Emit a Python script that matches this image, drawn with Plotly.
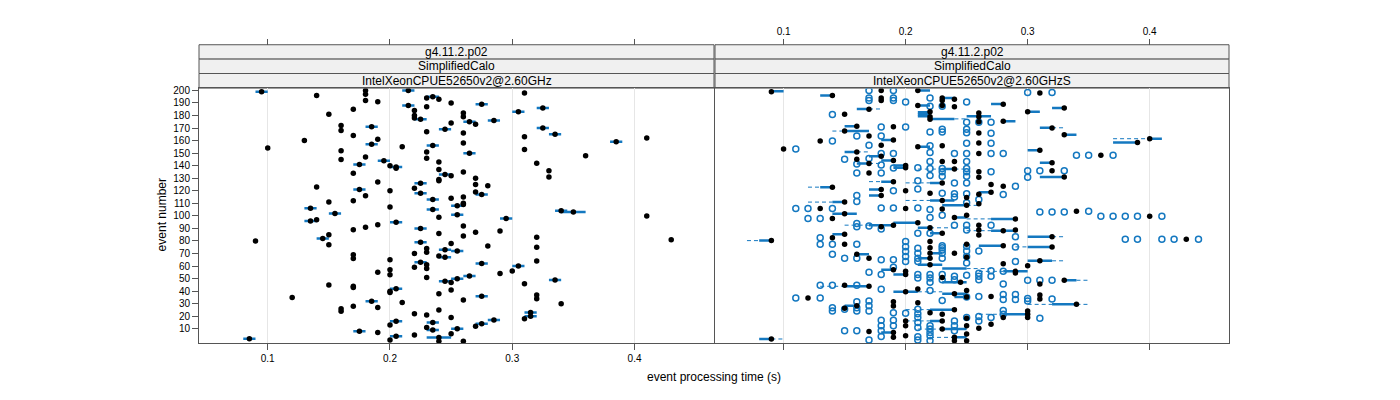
import plotly.graph_objects as go

# --- data ------------------------------------------------------------------
STRIP_TOP = "g4.11.2.p02"
STRIP_MID = "SimplifiedCalo"
STRIP_LEFT = "IntelXeonCPUE52650v2@2.60GHz"
STRIP_RIGHT = "IntelXeonCPUE52650v2@2.60GHzS"
X_TICKS = [0.1, 0.2, 0.3, 0.4]
Y_TICKS = list(range(10, 201, 10))

# left panel: (event, median time)
L_MEDIANS = [
    (200, 0.180), (199, 0.095), (200, 0.215), (198, 0.310), (197, 0.180), (196, 0.140),
    (195, 0.235), (194, 0.230), (193, 0.240), (192, 0.180), (191, 0.190), (190, 0.250),
    (189, 0.275), (188, 0.215), (187, 0.230), (186, 0.325), (185, 0.170), (184, 0.220),
    (183, 0.305), (182, 0.260), (181, 0.150), (180, 0.220), (179, 0.260), (178, 0.220),
    (177, 0.225), (176, 0.285), (175, 0.265), (174, 0.250), (173, 0.270), (172, 0.160),
    (171, 0.185), (170, 0.325), (169, 0.245), (168, 0.160), (167, 0.230), (166, 0.260),
    (165, 0.335), (164, 0.170), (163, 0.310), (162, 0.410), (161, 0.190), (160, 0.130),
    (159, 0.385), (158, 0.260), (157, 0.185), (156, 0.235), (155, 0.210), (154, 0.100),
    (153, 0.310), (152, 0.160), (151, 0.230), (150, 0.265), (148, 0.360), (147, 0.180),
    (146, 0.230), (145, 0.160), (144, 0.195), (143, 0.240), (142, 0.320), (141, 0.175),
    (140, 0.200), (139, 0.205), (138, 0.205), (137, 0.240), (136, 0.330), (135, 0.260),
    (134, 0.170), (133, 0.245), (132, 0.250), (131, 0.330), (130, 0.270), (129, 0.240),
    (128, 0.240), (127, 0.190), (126, 0.225), (125, 0.270), (124, 0.280), (123, 0.140),
    (122, 0.220), (121, 0.175), (120, 0.200), (119, 0.270), (118, 0.225), (117, 0.275),
    (116, 0.180), (115, 0.260), (114, 0.250), (113, 0.235), (112, 0.170), (111, 0.150),
    (110, 0.260), (109, 0.260), (108, 0.255), (107, 0.200), (106, 0.135), (105, 0.235),
    (104, 0.340), (103, 0.350), (102, 0.155), (101, 0.255), (100, 0.410), (99, 0.240),
    (98, 0.295), (97, 0.140), (96, 0.135), (95, 0.205), (93, 0.190), (92, 0.260),
    (91, 0.180), (90, 0.225), (89, 0.170), (88, 0.290), (87, 0.270), (86, 0.240),
    (85, 0.150), (84, 0.260), (83, 0.320), (82, 0.145), (81, 0.430), (80, 0.090),
    (79, 0.225), (78, 0.250), (77, 0.150), (76, 0.280), (75, 0.320), (74, 0.230),
    (73, 0.245), (72, 0.255), (71, 0.230), (70, 0.220), (69, 0.170), (68, 0.240),
    (67, 0.245), (66, 0.170), (65, 0.200), (64, 0.320), (63, 0.225), (62, 0.275),
    (61, 0.230), (60, 0.305), (59, 0.220), (58, 0.230), (57, 0.200), (56, 0.300),
    (55, 0.190), (54, 0.290), (53, 0.200), (52, 0.265), (51, 0.230), (50, 0.255),
    (49, 0.335), (48, 0.245), (47, 0.250), (46, 0.310), (45, 0.150), (44, 0.170),
    (43, 0.170), (42, 0.205), (41, 0.250), (40, 0.200), (39, 0.200), (38, 0.240),
    (37, 0.320), (36, 0.275), (35, 0.120), (34, 0.320), (33, 0.260), (32, 0.185),
    (31, 0.210), (30, 0.340), (28, 0.170), (27, 0.190), (26, 0.160), (25, 0.240),
    (24, 0.160), (23, 0.315), (22, 0.220), (21, 0.230), (20, 0.315), (19, 0.250),
    (18, 0.310), (17, 0.285), (16, 0.205), (15, 0.235), (14, 0.275), (13, 0.200),
    (12, 0.270), (11, 0.230), (10, 0.255), (9, 0.235), (8, 0.175), (7, 0.190),
    (6, 0.250), (5, 0.220), (4, 0.205), (3, 0.240), (2, 0.085), (1, 0.200),
    (0, 0.240), (0, 0.260),
]
# left panel boxes: (event, q1, q3)
L_BOXES = [
    (199, 0.090, 0.100), (200, 0.210, 0.220), (195, 0.230, 0.240), (189, 0.270, 0.280),
    (188, 0.210, 0.220), (186, 0.320, 0.330), (183, 0.300, 0.310), (177, 0.220, 0.230),
    (176, 0.280, 0.290), (175, 0.260, 0.270), (171, 0.180, 0.190), (170, 0.320, 0.330),
    (169, 0.240, 0.250), (165, 0.330, 0.340), (159, 0.380, 0.390), (157, 0.180, 0.190),
    (156, 0.230, 0.240), (150, 0.260, 0.270), (144, 0.190, 0.200), (141, 0.170, 0.180),
    (139, 0.200, 0.210), (133, 0.240, 0.250), (126, 0.220, 0.230), (121, 0.170, 0.180),
    (118, 0.220, 0.230), (117, 0.270, 0.280), (113, 0.230, 0.240), (108, 0.250, 0.260),
    (106, 0.130, 0.140), (105, 0.230, 0.240), (104, 0.335, 0.345), (103, 0.340, 0.360),
    (102, 0.150, 0.160), (101, 0.250, 0.260), (98, 0.290, 0.300), (96, 0.130, 0.140),
    (95, 0.200, 0.210), (90, 0.220, 0.230), (82, 0.140, 0.150), (79, 0.220, 0.230),
    (73, 0.240, 0.250), (72, 0.250, 0.260), (67, 0.240, 0.250), (63, 0.220, 0.230),
    (62, 0.270, 0.280), (60, 0.300, 0.310), (52, 0.260, 0.270), (50, 0.250, 0.260),
    (49, 0.330, 0.340), (48, 0.240, 0.250), (42, 0.200, 0.210), (36, 0.270, 0.280),
    (32, 0.180, 0.190), (23, 0.310, 0.320), (20, 0.310, 0.320), (17, 0.280, 0.290),
    (16, 0.200, 0.210), (15, 0.230, 0.240), (14, 0.270, 0.280), (10, 0.250, 0.260),
    (9, 0.230, 0.240), (8, 0.170, 0.180), (4, 0.200, 0.210), (3, 0.230, 0.250),
    (2, 0.080, 0.090),
]

# right panel: (time, event) medians
R_MEDIANS = [
    (0.09, 199), (0.18, 200), (0.21, 200), (0.31, 198), (0.14, 196), (0.18, 194), (0.18, 192),
    (0.23, 194), (0.23, 192), (0.24, 193), (0.24, 187), (0.21, 188), (0.23, 188), (0.28, 189),
    (0.17, 185), (0.33, 186), (0.30, 183), (0.15, 181), (0.22, 183), (0.22, 179), (0.22, 177),
    (0.26, 182), (0.26, 179), (0.28, 175.5), (0.26, 175), (0.16, 171.5), (0.19, 171),
    (0.32, 170), (0.26, 166), (0.15, 167.6), (0.17, 163.7), (0.33, 164.7), (0.13, 159.7),
    (0.19, 160.5), (0.26, 158), (0.40, 161.5), (0.39, 158.4), (0.18, 156.3), (0.21, 155),
    (0.23, 155.8), (0.10, 153.4), (0.31, 152.3), (0.16, 151), (0.18, 147.6), (0.26, 149.7),
    (0.36, 148.4), (0.16, 145.2), (0.19, 144.2), (0.23, 143.4), (0.24, 143.4), (0.32, 142.3),
    (0.17, 141.8), (0.20, 140.2), (0.20, 138.4), (0.24, 137.3), (0.26, 135.2), (0.32, 136),
    (0.17, 134.2), (0.26, 130.8), (0.33, 131), (0.19, 127.3), (0.23, 126.3), (0.27, 125),
    (0.28, 123.7), (0.14, 122.9), (0.18, 121), (0.20, 120), (0.22, 118.1), (0.18, 116.3),
    (0.25, 114.7), (0.26, 117.3), (0.27, 118.9), (0.15, 111), (0.23, 112.3), (0.26, 109.7),
    (0.13, 105.8), (0.20, 105.8), (0.23, 105.5), (0.25, 108.4), (0.34, 103.7), (0.15, 101.8),
    (0.40, 99.7), (0.24, 98.7), (0.25, 100.5), (0.29, 97.6), (0.14, 97.9),
    (0.18, 91.3), (0.19, 92.6), (0.21, 94.5), (0.22, 90.5), (0.26, 92.6), (0.26, 88.7),
    (0.28, 88.2), (0.29, 88.7), (0.23, 86.1), (0.26, 84.7), (0.14, 82.6), (0.15, 85.3),
    (0.43, 81.3), (0.09, 80.3), (0.32, 83.4), (0.15, 77.4), (0.22, 79.5), (0.25, 77.4),
    (0.28, 76.3), (0.32, 75.3), (0.16, 69.5), (0.17, 66.3), (0.22, 74.7), (0.22, 70.3),
    (0.22, 66.3), (0.22, 61), (0.24, 70.3), (0.25, 67.1), (0.28, 61.8), (0.31, 64.2),
    (0.30, 60.3), (0.29, 55.8), (0.29, 54.5), (0.20, 55.8), (0.20, 53.2), (0.19, 57.1),
    (0.23, 51), (0.245, 47.1), (0.33, 48.7), (0.31, 45.8), (0.15, 44.7), (0.17, 43.9),
    (0.20, 39.5), (0.21, 41.8), (0.24, 37.9), (0.25, 40.5), (0.12, 34.5), (0.19, 31.6),
    (0.21, 30.8), (0.25, 35.3), (0.27, 35.8), (0.31, 36.9), (0.31, 33.7), (0.34, 29.5),
    (0.15, 26.3), (0.16, 28.4), (0.19, 28.2), (0.22, 22.9), (0.23, 21.6), (0.24, 25.3),
    (0.30, 24.2), (0.30, 21.6), (0.30, 19), (0.28, 19), (0.20, 16.3), (0.20, 12.4),
    (0.23, 16.3), (0.23, 9.8), (0.25, 18.4), (0.25, 12.4), (0.26, 10.5), (0.27, 13.7),
    (0.17, 7.9), (0.19, 7.1), (0.19, 3.2), (0.20, 4.5), (0.24, 3.2), (0.24, 0.5),
    (0.25, 5.8), (0.25, 0.5), (0.09, 1.9),
]
# right panel: (time, event) outliers
R_OUTLIERS = [
    (0.17, 200), (0.19, 200), (0.30, 198.4), (0.32, 198.4), (0.17, 192), (0.19, 192),
    (0.20, 190.8), (0.17, 194), (0.19, 194), (0.22, 194), (0.25, 190.8), (0.22, 187.3),
    (0.23, 187.3), (0.14, 180.8), (0.25, 174.7), (0.26, 174.7), (0.27, 174.7), (0.23, 169),
    (0.25, 169), (0.25, 166.3), (0.22, 166.8), (0.23, 166.8), (0.27, 165.8), (0.18, 170.8),
    (0.20, 170.8), (0.16, 163.7), (0.18, 163.7), (0.14, 159.7), (0.25, 157.9), (0.27, 157.9),
    (0.17, 156.3), (0.22, 155.8), (0.11, 153.4), (0.18, 149.7), (0.19, 149.7), (0.22, 150.5),
    (0.24, 149.7), (0.25, 149.7), (0.27, 149.7), (0.28, 149.7), (0.34, 148.4), (0.35, 148.4),
    (0.37, 148.4), (0.15, 145.2), (0.17, 145.8), (0.22, 143.4), (0.25, 143.4), (0.16, 141.3),
    (0.18, 140.5), (0.19, 138.1), (0.21, 138.4), (0.22, 137.8), (0.23, 137.8), (0.23, 135.2),
    (0.25, 137.8), (0.25, 135.2), (0.27, 135.2), (0.30, 136), (0.31, 136), (0.33, 136),
    (0.16, 134.2), (0.18, 134.2), (0.22, 132.1), (0.23, 131.6), (0.25, 131.6), (0.30, 130.8),
    (0.21, 127.9), (0.24, 126.3), (0.25, 126.3), (0.29, 123.7), (0.19, 120), (0.21, 121.5),
    (0.16, 116.3), (0.23, 118.1), (0.24, 117.6), (0.24, 115), (0.25, 117.6), (0.28, 117.1),
    (0.16, 111.5), (0.25, 110.5), (0.26, 113.1), (0.11, 105.8), (0.12, 105.8), (0.14, 105.8),
    (0.18, 106.3), (0.19, 106.3), (0.21, 106.3), (0.22, 105), (0.31, 103.1), (0.32, 103.1),
    (0.33, 103.1), (0.35, 103.7), (0.36, 99.7), (0.37, 99.7), (0.38, 99.7), (0.39, 99.7),
    (0.41, 99.7), (0.22, 98.7), (0.23, 100.5), (0.12, 97.9), (0.13, 97.9),
    (0.16, 94), (0.16, 91.3), (0.17, 91.9), (0.18, 89.5), (0.24, 92.6), (0.25, 92.6),
    (0.25, 88.7), (0.27, 92.6), (0.21, 86.1), (0.22, 86.1), (0.29, 83.4), (0.13, 82.6),
    (0.38, 81.3), (0.39, 81.3), (0.41, 81.3), (0.42, 81.3), (0.44, 81.3), (0.13, 77.4),
    (0.14, 77.4), (0.16, 77.4), (0.20, 79.5), (0.23, 76.3), (0.25, 75.8), (0.29, 75.3),
    (0.14, 69.5), (0.15, 66.3), (0.16, 66.3), (0.18, 65), (0.19, 65), (0.20, 75.5),
    (0.20, 71.6), (0.20, 67.6), (0.20, 63.7), (0.21, 74.2), (0.21, 70.3), (0.21, 66.3),
    (0.21, 63.7), (0.23, 74.7), (0.23, 72.9), (0.23, 70.3), (0.23, 66.3), (0.25, 72.1),
    (0.25, 67.6), (0.25, 62.4), (0.26, 72.1), (0.29, 63.7), (0.17, 55), (0.18, 53.2),
    (0.19, 59), (0.21, 53.2), (0.21, 50.5), (0.22, 53.2), (0.22, 50.5), (0.22, 47.1),
    (0.23, 53.2), (0.23, 49.2), (0.24, 51.8), (0.24, 49.2), (0.25, 52.6), (0.26, 54.2),
    (0.26, 51.8), (0.26, 49.2), (0.27, 56.3), (0.27, 51.8), (0.28, 55.8), (0.30, 48.7),
    (0.31, 48.7), (0.32, 48.7), (0.28, 45.8), (0.13, 44.7), (0.14, 44.7), (0.16, 44.7),
    (0.18, 41.6), (0.22, 40.5), (0.11, 34.5), (0.13, 34.5), (0.16, 31.6), (0.17, 32.1),
    (0.23, 32.6), (0.25, 35.3), (0.26, 35.8), (0.28, 37.4), (0.28, 33.4), (0.29, 37.4),
    (0.29, 33.4), (0.30, 34.2), (0.30, 32.1), (0.32, 33.7), (0.14, 26.8), (0.14, 24.2),
    (0.15, 25.5), (0.16, 26.8), (0.16, 24.2), (0.17, 28.4), (0.17, 24.2), (0.19, 22.9),
    (0.20, 22.4), (0.21, 25.5), (0.21, 22.1), (0.21, 19), (0.25, 19), (0.28, 24.7),
    (0.28, 21.6), (0.31, 18.4), (0.18, 16.8), (0.18, 12.4), (0.19, 16.8), (0.19, 12.4),
    (0.21, 15), (0.21, 11), (0.22, 12.4), (0.22, 9.8), (0.22, 7.1), (0.24, 16.3),
    (0.24, 12.4), (0.24, 8.4), (0.26, 19.9), (0.26, 16.3), (0.27, 19), (0.15, 8.4),
    (0.16, 8.4), (0.18, 8.4), (0.18, 3.9), (0.21, 3.7), (0.21, 1.1), (0.22, 4.5),
    (0.22, 0.5), (0.17, 1.1),
]
# right panel boxes and whiskers: (event, low, high)
R_BOXES = [
    (199.4, 0.09, 0.10), (200, 0.21, 0.22), (196, 0.13, 0.14), (194, 0.23, 0.24),
    (188, 0.21, 0.22), (189.2, 0.27, 0.28), (185.2, 0.16, 0.17), (186, 0.32, 0.33),
    (182.9, 0.30, 0.31), (182.6, 0.21, 0.22), (181, 0.21, 0.22), (179.4, 0.21, 0.22),
    (177.3, 0.22, 0.24), (179.4, 0.25, 0.27), (175.5, 0.28, 0.29), (171.5, 0.15, 0.16),
    (170.2, 0.31, 0.32), (167.6, 0.15, 0.17), (164.7, 0.33, 0.34), (160.5, 0.18, 0.19),
    (161.5, 0.40, 0.41), (158.4, 0.37, 0.39), (155, 0.21, 0.22), (152.3, 0.30, 0.31),
    (151, 0.15, 0.16), (147.6, 0.17, 0.18), (144.2, 0.18, 0.19), (142.3, 0.31, 0.32),
    (141.8, 0.16, 0.17), (140.2, 0.19, 0.20), (138.4, 0.19, 0.20), (137.3, 0.23, 0.24),
    (131, 0.31, 0.33), (127.3, 0.18, 0.19), (126.3, 0.22, 0.23), (122.9, 0.13, 0.14),
    (121, 0.17, 0.18), (118.9, 0.26, 0.27), (116.3, 0.17, 0.18), (112.3, 0.22, 0.24),
    (111, 0.14, 0.15), (108.4, 0.23, 0.25), (101.8, 0.14, 0.16), (97.6, 0.27, 0.29),
    (98.7, 0.24, 0.25), (92.6, 0.17, 0.19), (94.5, 0.19, 0.21), (90.5, 0.21, 0.22),
    (88.2, 0.27, 0.29), (86.1, 0.22, 0.23), (85.3, 0.14, 0.15), (83.4, 0.30, 0.32),
    (80.3, 0.08, 0.09), (76.3, 0.26, 0.28), (75.3, 0.30, 0.32), (69.5, 0.16, 0.17),
    (64.2, 0.30, 0.32), (55.8, 0.28, 0.30), (57.1, 0.18, 0.19), (48.7, 0.33, 0.34),
    (43.9, 0.15, 0.17), (39.5, 0.19, 0.21), (37.9, 0.23, 0.25), (29.5, 0.32, 0.34),
    (28.4, 0.15, 0.16), (25.3, 0.22, 0.24), (1.9, 0.08, 0.09), (61, 0.21, 0.23),
    (66.3, 0.21, 0.22), (70.3, 0.22, 0.23), (58, 0.23, 0.25), (53.2, 0.19, 0.20),
    (47.1, 0.23, 0.25), (35.3, 0.24, 0.25), (21.6, 0.28, 0.30), (16.3, 0.22, 0.23),
    (9.8, 0.23, 0.25), (3.2, 0.24, 0.25), (7.1, 0.18, 0.19),
]
R_WHISKERS = [
    (185.2, 0.17, 0.18), (177.3, 0.24, 0.25), (170.2, 0.32, 0.33), (167.6, 0.14, 0.15),
    (161.5, 0.37, 0.40), (151, 0.16, 0.17), (141.8, 0.17, 0.18), (137.3, 0.24, 0.25),
    (127.3, 0.17, 0.18), (122.9, 0.12, 0.13), (111, 0.12, 0.14), (108.4, 0.25, 0.26),
    (80.3, 0.07, 0.08), (83.4, 0.32, 0.33), (48.7, 0.34, 0.35), (29.5, 0.30, 0.32),
    (29.5, 0.34, 0.35), (1.9, 0.09, 0.10), (92.6, 0.15, 0.17), (90.5, 0.22, 0.24),
    (88.2, 0.25, 0.27), (75.3, 0.29, 0.30), (64.2, 0.32, 0.33), (55.8, 0.26, 0.28),
    (43.9, 0.13, 0.15), (39.5, 0.21, 0.23), (25.3, 0.20, 0.22), (21.6, 0.26, 0.28),
    (16.3, 0.20, 0.22), (9.8, 0.21, 0.23), (3.2, 0.22, 0.24), (137.3, 0.21, 0.23),
    (126.3, 0.20, 0.22), (112.3, 0.20, 0.22), (97.6, 0.25, 0.27), (58, 0.25, 0.27),
]

BLUE = "#1478c0"
FRAME = "#555555"
FONT = "Liberation Sans, Arial, sans-serif"

# the page body adds an 8px offset; figure is sized to fit the window
W, H, OFF = 1384, 384, 8


def px(x):
    return (x - OFF) / W


def py(y):
    return 1 - (y - OFF) / H


def segments(rows):
    xs, ys = [], []
    for n, lo, hi in rows:
        xs += [lo, hi, None]
        ys += [n, n, None]
    return xs, ys


fig = go.Figure()

# ---- left panel ----
bx, by = segments(L_BOXES)
fig.add_trace(go.Scatter(x=bx, y=by, mode="lines", line=dict(color=BLUE, width=2.5),
                         xaxis="x", yaxis="y", hoverinfo="skip"))
fig.add_trace(go.Scatter(x=[t for n, t in L_MEDIANS], y=[n for n, t in L_MEDIANS],
                         mode="markers", marker=dict(color="black", size=5.5),
                         xaxis="x", yaxis="y"))

# ---- right panel ----
wx, wy = segments(R_WHISKERS)
fig.add_trace(go.Scatter(x=wx, y=wy, mode="lines", line=dict(color=BLUE, width=1, dash="4px,3px"),
                         xaxis="x2", yaxis="y2", hoverinfo="skip"))
bx, by = segments(R_BOXES)
fig.add_trace(go.Scatter(x=bx, y=by, mode="lines", line=dict(color=BLUE, width=2.5),
                         xaxis="x2", yaxis="y2", hoverinfo="skip"))
fig.add_trace(go.Scatter(x=[t for t, n in R_OUTLIERS], y=[n for t, n in R_OUTLIERS],
                         mode="markers",
                         marker=dict(symbol="circle-open", color=BLUE, size=6, line=dict(width=1.5)),
                         xaxis="x2", yaxis="y2"))
fig.add_trace(go.Scatter(x=[t for t, n in R_MEDIANS], y=[n for t, n in R_MEDIANS],
                         mode="markers", marker=dict(color="black", size=5.5),
                         xaxis="x2", yaxis="y2"))

XR = [0.0438, 0.465]
YR = [-1.6, 201.6]
LD = [px(199), px(714)]
RD = [px(715), px(1229)]
YD = [py(343), py(86)]
STRIP_Y = [py(42), py(56.5), py(71), py(85.7)]

common_x = dict(range=XR, tickvals=X_TICKS, ticktext=["0.1", "0.2", "0.3", "0.4"],
                ticks="outside", ticklen=6, tickcolor=FRAME, zeroline=False,
                tickfont=dict(size=10, color="black"))

fig.update_layout(
    width=W, height=H, autosize=False,
    margin=dict(l=0, r=0, t=0, b=0),
    paper_bgcolor="white", plot_bgcolor="white",
    showlegend=False,
    font=dict(family=FONT, color="black"),
    xaxis=dict(domain=LD, anchor="y", showgrid=True, gridcolor="#e6e6e6",
               showline=True, linecolor=FRAME, mirror=True, **common_x),
    xaxis2=dict(domain=RD, anchor="y2", showgrid=True, gridcolor="#e6e6e6",
                showline=True, linecolor=FRAME, mirror=True, showticklabels=False, **common_x),
    xaxis3=dict(overlaying="x", anchor="free", position=STRIP_Y[0], side="top",
                showgrid=False, showline=False, showticklabels=False, **common_x),
    xaxis4=dict(overlaying="x2", anchor="free", position=STRIP_Y[0], side="top",
                showgrid=False, showline=False, **common_x),
    yaxis=dict(domain=YD, anchor="x", range=YR, tickvals=Y_TICKS, ticks="outside",
               ticklen=6, tickcolor=FRAME, showgrid=False, zeroline=False,
               showline=True, linecolor=FRAME, mirror=True,
               tickfont=dict(size=10, color="black")),
    yaxis2=dict(domain=YD, anchor="x2", range=YR, showticklabels=False, ticks="",
                showgrid=False, zeroline=False, showline=True, linecolor=FRAME, mirror=True),
)

# empty traces so the top axes are drawn
fig.add_trace(go.Scatter(x=[None], y=[None], xaxis="x3", yaxis="y", showlegend=False))
fig.add_trace(go.Scatter(x=[None], y=[None], xaxis="x4", yaxis="y2", showlegend=False))

# ---- strips ----
for dom, label in [(LD, STRIP_LEFT), (RD, STRIP_RIGHT)]:
    texts = [STRIP_TOP, STRIP_MID, label]
    for i in range(3):
        fig.add_shape(type="rect", xref="paper", yref="paper",
                      x0=dom[0], x1=dom[1], y0=STRIP_Y[i + 1], y1=STRIP_Y[i],
                      fillcolor="#f0f0f0", line=dict(color=FRAME, width=1), layer="below")
        fig.add_annotation(xref="paper", yref="paper", x=(dom[0] + dom[1]) / 2,
                           y=(STRIP_Y[i] + STRIP_Y[i + 1]) / 2, text=texts[i],
                           showarrow=False, font=dict(size=12, color="black"),
                           xanchor="center", yanchor="middle")

# ---- axis titles ----
fig.add_annotation(xref="paper", yref="paper", x=px(714), y=py(377),
                   text="event processing time (s)", showarrow=False,
                   font=dict(size=12), xanchor="center", yanchor="middle")
fig.add_annotation(xref="paper", yref="paper", x=px(162), y=py(214),
                   text="event number", showarrow=False, textangle=-90,
                   font=dict(size=12), xanchor="center", yanchor="middle")

fig.write_html("out.html")
